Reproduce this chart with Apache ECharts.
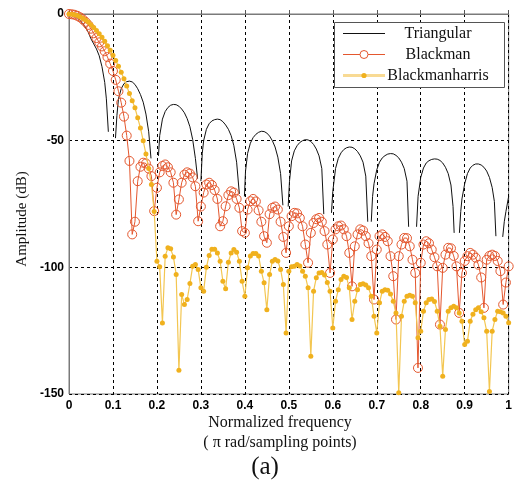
<!DOCTYPE html>
<html><head><meta charset="utf-8">
<script src="https://cdn.jsdelivr.net/npm/echarts@6/dist/echarts.min.js"></script>
<style>html,body{margin:0;padding:0;background:#fff}#c{width:515px;height:485px}</style>
</head><body><div id="c"></div>
<script>
// ---- data ----
const seriesNames = ['Triangular', 'Blackman', 'Blackmanharris'];
const xTicks = [0, 0.1, 0.2, 0.3, 0.4, 0.5, 0.6, 0.7, 0.8, 0.9, 1];
const yTicks = [-150, -100, -50, 0];
const sampleCount = 161; // samples 0..1 step 1/160

// Triangular (line, broken at the nulls: null = gap)
const triFreq = [
 0,0.00625,0.0125,0.01875,0.025,0.03125,0.0375,0.04375,0.05,0.05625,0.0625,0.06875,0.075,0.08125,0.085,0.0895, 0.0976,
 0.1057,0.109,0.1125,0.11875,0.125,0.13125,0.1375,0.14375,0.15,0.15625,0.1625,0.16875,0.175,0.18125,0.1865, 0.195,
 0.2035,0.2063,0.2125,0.21875,0.225,0.23125,0.2375,0.24375,0.25,0.25625,0.2625,0.26875,0.275,0.28125,0.2875,0.2925, 0.296,
 0.3,0.3031,0.30625,0.3125,0.31875,0.325,0.33125,0.3375,0.34375,0.35,0.35625,0.3625,0.36875,0.375,0.38125,0.3875, 0.393,
 0.399,0.4015,0.40625,0.4125,0.41875,0.425,0.43125,0.4375,0.44375,0.45,0.45625,0.4625,0.46875,0.475,0.48125,0.4865, 0.492,
 0.4985,0.5015,0.50625,0.5125,0.51875,0.525,0.53125,0.5375,0.54375,0.55,0.55625,0.5625,0.56875,0.575,0.5795, 0.588,
 0.597,0.6,0.60625,0.6125,0.61875,0.625,0.63125,0.6375,0.64375,0.65,0.65625,0.6625,0.66875,0.675,0.6795, 0.683,
 0.6875,0.6905,0.69375,0.7,0.70625,0.7125,0.71875,0.725,0.73125,0.7375,0.74375,0.75,0.75625,0.7625,0.76875,0.7725, 0.781,
 0.7905,0.794,0.8,0.80625,0.8125,0.81875,0.825,0.83125,0.8375,0.84375,0.85,0.85625,0.8625,0.86875,0.8735,0.876, 0.882,
 0.888,0.891,0.89375,0.9,0.90625,0.9125,0.91875,0.925,0.93125,0.9375,0.94375,0.95,0.95625,0.9625,0.9675,0.971, 0.978,
 0.9865,0.99,0.99375,1.0
];
const triAmp = [
 0,-0.2,-0.6,-1.4,-2.5,-3.8,-5.3,-7.2,-9.8,-11.8,-13.8,-16.5,-20.8,-27,-33.5,-46.5, null,
 -49,-40,-33.5,-29.5,-27.5,-26.7,-26.5,-26.8,-27.8,-29.5,-31.8,-34.8,-39.5,-46.5,-57, null,
 -56,-48,-41.5,-38.5,-36.9,-36,-35.7,-35.8,-36.4,-37.5,-39,-41.3,-44.5,-49.5,-57,-65, null,
 -66,-55,-50,-45.5,-43.3,-42.2,-41.7,-41.5,-41.7,-42.5,-43.8,-45.5,-48,-52,-58.5,-71, null,
 -72,-62,-55,-51,-48.8,-47.5,-46.7,-46.3,-46.4,-47,-48.2,-50,-52.5,-56.5,-63,-75.5, null,
 -76,-66,-58,-54,-52,-50.7,-50,-49.6,-49.7,-50.3,-51.5,-53.3,-56,-61,-79, null,
 -78.5,-70,-61,-57,-54.8,-53.5,-52.8,-52.5,-52.6,-53.2,-54.3,-56,-58.5,-64,-82, null,
 -82,-72,-67,-61.5,-58.5,-56.8,-55.9,-55.3,-55.1,-55.2,-55.8,-56.8,-58.5,-61,-66,-84, null,
 -84,-72,-64.5,-60.8,-58.8,-57.9,-57.4,-57.2,-57.3,-57.8,-58.8,-60.5,-63,-67.5,-76,-86.4, null,
 -86.4,-78,-73,-67,-63,-60.8,-59.7,-59.2,-59.2,-59.6,-60.5,-62,-64.5,-68.5,-74,-87.7, null,
 -88,-82,-78,-72
];

// Blackman (hollow circles), one value per sample i/160
const blackmanAmp = [
 0,-0.1,-0.3,-0.7,-1.3,-2.1,-3.1,-4.3,-5.8,-7.6,-9.5,-11.2,-12.8,-14.7,-17,-19.6,
 -22.5,-26,-30.5,-35,-40.5,-48,-58,-87,-82,-66,-60.3,-58.7,-59,-61,-64,-77.8,
 -68.6,-62.5,-60,-59.4,-60.5,-62.5,-66.6,-79.2,-73.2,-66.6,-63.4,-62.5,-63,-64.5,-68,-81.8,
 -76,-70.5,-67.3,-66.6,-67.5,-69.5,-73,-83.8,-81.8,-75.9,-71.5,-70,-70.5,-73,-76.5,-85.7,
 -86.4,-77.2,-73.9,-73,-74,-77.5,-82,-87.7,-90.3,-79,-76.5,-76,-77.2,-82,-88,-94.3,
 -83.8,-79.8,-78.5,-78.7,-80.5,-83.8,-91,-98.2,-86.4,-82.5,-81,-80.5,-82,-85.7,-91,-102.2,
 -89,-85,-83.8,-83.5,-85,-87.7,-94.3,-107.5,-91.7,-87,-85,-85.5,-87.7,-90.5,-95.6,-112.7,
 -93,-87.7,-87,-88,-89.7,-95.6,-103.5,-120.6,-95.6,-91,-88.4,-88.5,-91.7,-97,-102.2,-139.7,
 -98.2,-91,-89.7,-90.5,-93,-96,-99.6,-122.6,-100.2,-95,-92.3,-92.5,-95.5,-99.6,-118,-102.2,
 -97.5,-95.6,-94.3,-95,-96.2,-99,-104,-116,-97,-95.5,-95,-95.5,-97.5,-101.5,-114.7,-106,
 -99.6
];

// Blackmanharris (filled dots), one value per sample i/160
const blackmanharrisAmp = [
 0,-0.1,-0.3,-0.6,-1.1,-1.7,-2.4,-3.2,-4.2,-5.3,-6.5,-7.8,-9.2,-10.8,-12.5,-14.3,
 -16.3,-18.4,-20.6,-23,-25.6,-28.4,-31.4,-34.2,-37,-41,-45,-50,-55.3,-61,-67.3,-78,
 -97.6,-99.8,-122,-95.6,-92.3,-92.7,-95.9,-102.8,-140.6,-110.7,-114.7,-112.7,-106.4,-99.6,-98.9,-100.9,
 -108.1,-109.4,-100,-95.3,-92.9,-92.9,-94.3,-97.6,-105.5,-108.5,-98,-94.3,-93,-94,-97.6,-105.5,
 -111.4,-100.2,-95.5,-94.5,-94.5,-95.5,-101.5,-106.1,-116.7,-102.8,-97.6,-96.9,-97.5,-100.9,-106.8,-125.9,
 -101.5,-99.8,-99.6,-98.9,-99.5,-101.5,-103.5,-108.1,-135.1,-109.4,-104.1,-102.2,-102,-103,-106,-109.4,
 -123.9,-113.4,-108.8,-104.8,-103.5,-104,-108.1,-120.6,-113.4,-108.8,-106.8,-106.5,-107,-108.1,-111.4,-119.3,
 -125.9,-114,-109.4,-108.8,-109,-110.5,-113.4,-118,-149.5,-119.3,-113.4,-111.4,-111,-111.4,-114,-127.8,
 -125.2,-117.3,-114,-112.7,-112.5,-113.5,-117.3,-123.3,-143,-124.5,-117.3,-116,-115.4,-116,-118,-121.3,
 -130.5,-129.2,-121.3,-118.5,-116.7,-116,-117.5,-119.9,-125.2,-149,-125.2,-120.6,-117.3,-117.5,-118,-119.3,
 -121.9
];

// ---- build ----
const sampleFreq = [];
for (let i = 0; i < sampleCount; i++) sampleFreq.push(i / (sampleCount - 1));
const pairs = (xs, ys) => xs.map((x, i) => [x, ys[i] === null ? '-' : ys[i]]);

const RED = '#E4572E', GOLD = '#F0B11E', GOLDLINE = '#F3C651', GOLDPALE = '#F8DA94';
const serif = '"Liberation Serif","DejaVu Serif",serif';
const sans = '"Liberation Sans",Arial,sans-serif';

// legend drawn as graphic (box, sample lines, markers, centred text)
const LX = 334.5, LY = 22.5, LW = 170, LH = 65;
const rowY = [33.5, 54.5, 75.5];
const legendGraphic = [
  {type: 'rect', shape: {x: LX, y: LY, width: LW, height: LH}, style: {fill: '#fff', stroke: '#555', lineWidth: 1}, z: 100},
  {type: 'line', shape: {x1: 343, y1: rowY[0], x2: 385, y2: rowY[0]}, style: {stroke: '#111', lineWidth: 1}, z: 101},
  {type: 'line', shape: {x1: 343, y1: rowY[1], x2: 385, y2: rowY[1]}, style: {stroke: RED, lineWidth: 1}, z: 101},
  {type: 'circle', shape: {cx: 364, cy: rowY[1], r: 4}, style: {fill: '#fff', stroke: RED, lineWidth: 1}, z: 102},
  {type: 'line', shape: {x1: 343, y1: rowY[2], x2: 385, y2: rowY[2]}, style: {stroke: GOLDPALE, lineWidth: 3}, z: 101},
  {type: 'circle', shape: {cx: 364, cy: rowY[2], r: 2.6}, style: {fill: GOLD}, z: 102}
].concat(seriesNames.map((n, k) => ({
  type: 'text', x: 438, y: rowY[k], z: 103,
  style: {text: n, font: '16px ' + serif, fill: '#111', align: 'center', verticalAlign: 'middle'}
})));

const chart = echarts.init(document.getElementById('c'), null, {renderer: 'canvas'});
chart.setOption({
  animation: false,
  backgroundColor: '#fff',
  grid: {left: 69, right: 5, top: 14, bottom: 91, show: true, borderColor: '#7a7a7a', borderWidth: 1},
  legend: {show: false},
  xAxis: {
    type: 'value', min: 0, max: 1, interval: 0.1,
    axisLine: {show: true, lineStyle: {color: '#7a7a7a', width: 1}},
    axisTick: {show: true, inside: true, length: 4, lineStyle: {color: '#555'}},
    axisLabel: {margin: 6, color: '#000', fontFamily: sans, fontWeight: 'bold', fontSize: 12,
      formatter: v => { const t = xTicks.find(k => Math.abs(k - v) < 1e-6); return t === undefined ? '' : String(t); }},
    splitLine: {show: true, lineStyle: {color: '#000', type: [3, 3], width: 1}}
  },
  yAxis: {
    type: 'value', min: -150, max: 0, interval: 50,
    axisLine: {show: true, lineStyle: {color: '#7a7a7a', width: 1}},
    axisTick: {show: false},
    axisLabel: {margin: 5, color: '#000', fontFamily: sans, fontWeight: 'bold', fontSize: 12,
      formatter: v => { const t = yTicks.find(k => Math.abs(k - v) < 1e-6); return t === undefined ? '' : String(t); }},
    splitLine: {show: true, lineStyle: {color: '#000', type: [3, 3], width: 1}}
  },
  graphic: [
    {type: 'text', x: 22, y: 219, rotation: Math.PI / 2, style: {text: 'Amplitude (dB)', font: '15px ' + serif, fill: '#111', align: 'center', verticalAlign: 'middle'}},
    {type: 'text', x: 280, y: 423, style: {text: 'Normalized frequency', font: '16px ' + serif, fill: '#111', align: 'center', verticalAlign: 'middle'}},
    {type: 'text', x: 280, y: 443, style: {text: '( π rad/sampling points)', font: '16px ' + serif, fill: '#111', align: 'center', verticalAlign: 'middle'}},
    {type: 'text', x: 265, y: 467, style: {text: '(a)', font: '25px ' + serif, fill: '#111', align: 'center', verticalAlign: 'middle'}}
  ].concat(legendGraphic),
  series: [
    {name: 'Triangular', type: 'line', data: pairs(triFreq, triAmp), showSymbol: false, symbol: 'none',
     connectNulls: false, lineStyle: {color: '#111', width: 1}, itemStyle: {color: '#111'}, z: 2},
    {name: 'Blackman', type: 'line', data: pairs(sampleFreq, blackmanAmp), symbol: 'circle', symbolSize: 9,
     showAllSymbol: true, lineStyle: {color: RED, width: 1},
     itemStyle: {color: 'rgba(255,255,255,0)', borderColor: RED, borderWidth: 1}, z: 3},
    {name: 'Blackmanharris', type: 'line', data: pairs(sampleFreq, blackmanharrisAmp), symbol: 'circle', symbolSize: 5,
     showAllSymbol: true, lineStyle: {color: GOLDLINE, width: 1.2},
     itemStyle: {color: GOLD, borderWidth: 0}, z: 4}
  ]
});
</script></body></html>
